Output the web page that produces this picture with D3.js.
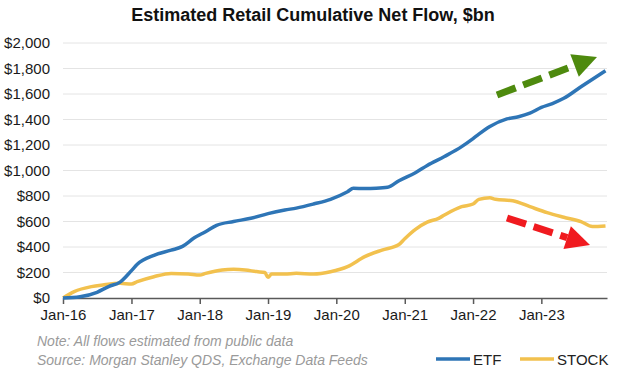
<!DOCTYPE html>
<html>
<head>
<meta charset="utf-8">
<script src="https://cdn.jsdelivr.net/npm/d3@7"></script>
<style>
  body { margin: 0; background: #fff; }
  text { font-family: "Liberation Sans", Arial, sans-serif; }
</style>
</head>
<body>
<div class="chart"></div>
<script>
// valores ($bn)
var etfDates = ["2016-01-01","2016-04-01","2016-07-01","2016-09-01","2016-11-01","2017-01-01","2017-02-01",
  "2017-05-01","2017-08-01","2017-10-01","2017-12-01","2018-02-01","2018-04-01","2018-07-01","2018-10-01",
  "2019-01-01","2019-04-01","2019-06-01","2019-09-01","2019-12-01","2020-03-01","2020-04-01","2020-06-01",
  "2020-08-01","2020-10-01","2020-12-01","2021-03-01","2021-05-01","2021-08-01","2021-11-01","2022-01-01",
  "2022-02-01","2022-04-01","2022-07-01","2022-09-01","2022-11-01","2023-01-01","2023-03-01","2023-05-01",
  "2023-08-01","2023-12-10"];
var etfValues = [0,10,45,90,125,215,265,335,375,405,470,520,570,600,625,662,690,705,737,774,834,860,858,
  860,868,920,985,1040,1110,1187,1250,1285,1345,1405,1422,1450,1495,1525,1566,1657,1783];

var stockDates = ["2016-01-01","2016-03-01","2016-06-01","2016-08-01","2016-11-01","2017-01-01","2017-02-01",
  "2017-05-01","2017-08-01","2017-11-01","2018-01-01","2018-02-01","2018-05-01","2018-07-01","2018-09-01",
  "2018-11-01","2018-12-15","2019-01-01","2019-01-20","2019-04-01","2019-06-01","2019-09-01","2019-12-01",
  "2020-03-01","2020-06-01","2020-09-01","2020-12-01","2021-01-01","2021-03-01","2021-05-01","2021-07-01",
  "2021-08-01","2021-11-01","2022-01-01","2022-02-01","2022-04-01","2022-05-01","2022-08-01","2022-11-01",
  "2023-02-01","2023-05-01","2023-08-01","2023-10-01","2023-12-10"];
var stockValues = [0,50,89,102,115,110,128,167,193,188,180,193,220,225,220,207,200,162,188,188,194,188,206,
  246,324,376,420,465,540,595,625,651,716,737,774,787,774,763,716,669,633,599,560,565];

var yTicks = [0,200,400,600,800,1000,1200,1400,1600,1800,2000];
var xTickYears = [2016,2017,2018,2019,2020,2021,2022,2023];
var seriesNames = ["ETF","STOCK"];
var colors = ["#2E75B6","#F2C14E"];

var width = 620, height = 372;
var parse = d3.timeParse("%Y-%m-%d");

var svg = d3.select(".chart")
  .append("svg")
  .attr("width", width)
  .attr("height", height)
  .style("background", "#fff");

var x = d3.scaleTime()
  .domain([new Date(2016,0,1), new Date(2023,11,18)])
  .range([63, 607]);
var y = d3.scaleLinear()
  .domain([0, 2000])
  .range([298, 43]);

// titulo
svg.append("text")
  .attr("x", 313)
  .attr("y", 21)
  .attr("text-anchor", "middle")
  .attr("font-size", "18")
  .attr("font-weight", "bold")
  .attr("fill", "#111")
  .text("Estimated Retail Cumulative Net Flow, $bn");

// lineas de cuadricula
svg.append("g")
  .selectAll("line")
  .data(yTicks.slice(1))
  .enter()
  .append("line")
  .attr("x1", 63)
  .attr("x2", 607)
  .attr("y1", function(d) { return y(d); })
  .attr("y2", function(d) { return y(d); })
  .attr("stroke", "#e4e4e4")
  .attr("stroke-width", 1);

// eje y
var yAxis = svg.append("g")
  .attr("transform", "translate(63,0)")
  .call(d3.axisLeft(y).tickValues(yTicks).tickSize(0).tickPadding(13)
    .tickFormat(function(d) { return "$" + d3.format(",")(d); }));
yAxis.select(".domain").remove();
yAxis.selectAll("text")
  .attr("font-size", "15")
  .attr("font-family", "Liberation Sans, Arial, sans-serif")
  .attr("fill", "#1a1a1a");

// eje x
var xAxis = svg.append("g")
  .attr("transform", "translate(0,298)")
  .call(d3.axisBottom(x)
    .tickValues(xTickYears.map(function(d) { return new Date(d,0,1); }))
    .tickSize(6).tickSizeOuter(0).tickPadding(5)
    .tickFormat(d3.timeFormat("Jan-%y")));
xAxis.select(".domain").attr("stroke", "#595959").attr("stroke-width", 1.5);
xAxis.selectAll(".tick line").attr("stroke", "#595959").attr("stroke-width", 1.5);
xAxis.selectAll("text")
  .attr("font-size", "15")
  .attr("font-family", "Liberation Sans, Arial, sans-serif")
  .attr("fill", "#1a1a1a");

var line = d3.line()
  .x(function(d) { return x(d.date); })
  .y(function(d) { return y(d.value); })
  .curve(d3.curveMonotoneX);

var etf = etfDates.map(function(d, i) { return {date: parse(d), value: etfValues[i]}; });
var stock = stockDates.map(function(d, i) { return {date: parse(d), value: stockValues[i]}; });

svg.append("path")
  .datum(stock)
  .attr("d", line)
  .attr("fill", "none")
  .attr("stroke", colors[1])
  .attr("stroke-width", 3.5);
svg.append("path")
  .datum(etf)
  .attr("d", line)
  .attr("fill", "none")
  .attr("stroke", colors[0])
  .attr("stroke-width", 3.5);

// flechas
function arrow(x1, y1, x2, y2, color) {
  var ang = Math.atan2(y2 - y1, x2 - x1);
  var headLen = 24, headW = 12;
  var bx = x2 - headLen * Math.cos(ang), by = y2 - headLen * Math.sin(ang);
  svg.append("line")
    .attr("x1", x1).attr("y1", y1)
    .attr("x2", bx).attr("y2", by)
    .attr("stroke", color)
    .attr("stroke-width", 7)
    .attr("stroke-dasharray", "20,8");
  var px = -Math.sin(ang) * headW, py = Math.cos(ang) * headW;
  svg.append("polygon")
    .attr("points", [[x2, y2], [bx + px, by + py], [bx - px, by - py]].map(function(p) { return p.join(","); }).join(" "))
    .attr("fill", color);
}
arrow(497, 95, 597, 57, "#4E8A0E");
arrow(507, 218, 590, 245, "#F01A1F");

// nota
svg.append("text")
  .attr("x", 37)
  .attr("y", 346)
  .attr("font-size", "14")
  .attr("font-style", "italic")
  .attr("fill", "#9a9a9a")
  .text("Note:  All flows estimated from public data");
svg.append("text")
  .attr("x", 37)
  .attr("y", 365)
  .attr("font-size", "14")
  .attr("font-style", "italic")
  .attr("fill", "#9a9a9a")
  .text("Source: Morgan Stanley QDS, Exchange Data Feeds");

// leyenda
var legX = [436, 520];
var leg = svg.selectAll(".leg")
  .data(seriesNames)
  .enter()
  .append("g")
  .attr("class", "leg")
  .attr("transform", function(d, i) { return "translate(" + legX[i] + ",359)"; });
leg.append("line")
  .attr("x1", 0).attr("x2", 34)
  .attr("stroke", function(d, i) { return colors[i]; })
  .attr("stroke-width", 3.5);
leg.append("text")
  .attr("x", 37)
  .attr("y", 5.5)
  .attr("font-size", "15")
  .attr("fill", "#222")
  .text(function(d) { return d; });
</script>
</body>
</html>
